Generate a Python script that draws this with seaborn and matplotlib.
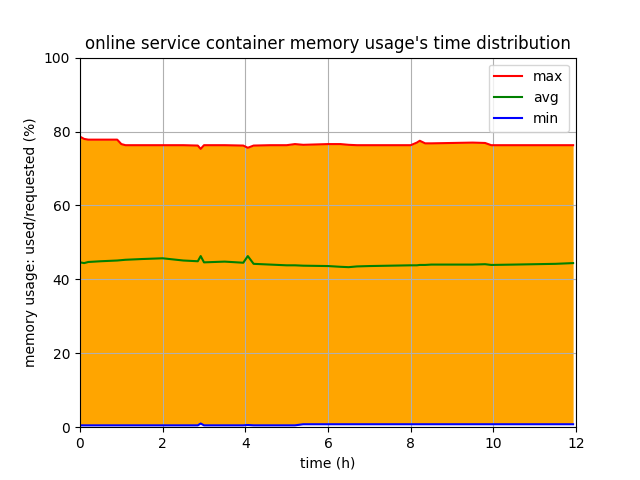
import matplotlib
matplotlib.use("Agg")
import matplotlib.pyplot as plt
import seaborn as sns
import pandas as pd

time_h = [0.0, 0.1, 0.2, 0.5, 0.9, 1.0, 1.1, 1.5, 2.0, 2.5, 2.85, 2.92, 3.0, 3.5,
          3.95, 4.06, 4.2, 4.6, 5.0, 5.2, 5.4, 6.0, 6.3, 6.5, 6.7, 7.0, 7.5, 8.0,
          8.15, 8.22, 8.35, 8.5, 9.0, 9.5, 9.8, 9.95, 10.5, 11.0, 11.5, 11.93]
max_vals = [78.6, 78.0, 77.8, 77.8, 77.8, 76.6, 76.3, 76.3, 76.3, 76.3, 76.2, 75.3, 76.3, 76.3,
            76.2, 75.6, 76.2, 76.3, 76.3, 76.6, 76.4, 76.6, 76.6, 76.4, 76.3, 76.3, 76.3, 76.3,
            77.0, 77.5, 76.8, 76.8, 76.9, 77.0, 76.9, 76.3, 76.3, 76.3, 76.3, 76.3]
avg_vals = [44.6, 44.4, 44.7, 44.9, 45.1, 45.2, 45.3, 45.5, 45.7, 45.1, 44.9, 46.3, 44.6, 44.8,
            44.5, 46.3, 44.2, 44.0, 43.8, 43.8, 43.7, 43.6, 43.4, 43.3, 43.5, 43.6, 43.7, 43.8,
            43.8, 43.9, 43.9, 44.0, 44.0, 44.0, 44.1, 43.9, 44.0, 44.1, 44.2, 44.4]
min_vals = [0.5, 0.5, 0.5, 0.5, 0.5, 0.5, 0.5, 0.5, 0.5, 0.5, 0.5, 1.0, 0.5, 0.5,
            0.5, 0.6, 0.5, 0.5, 0.5, 0.5, 0.8, 0.8, 0.8, 0.8, 0.8, 0.8, 0.8, 0.8,
            0.8, 0.8, 0.8, 0.8, 0.8, 0.8, 0.8, 0.8, 0.8, 0.8, 0.8, 0.8]

df = pd.DataFrame({"time": time_h, "max": max_vals, "avg": avg_vals, "min": min_vals})

fig, ax = plt.subplots(figsize=(6.4, 4.8), dpi=100)
ax.fill_between(df["time"], df["min"], df["max"], color="orange", linewidth=0)
sns.lineplot(data=df, x="time", y="max", color="red", label="max", ax=ax)
sns.lineplot(data=df, x="time", y="avg", color="green", label="avg", ax=ax)
sns.lineplot(data=df, x="time", y="min", color="blue", label="min", ax=ax)
ax.set_xlim(0, 12)
ax.set_ylim(0, 100)
ax.grid(True)
ax.set_title("online service container memory usage's time distribution")
ax.set_xlabel("time (h)")
ax.set_ylabel("memory usage: used/requested (%)")
ax.legend(loc="upper right")
fig.savefig("out.png", dpi=100)
